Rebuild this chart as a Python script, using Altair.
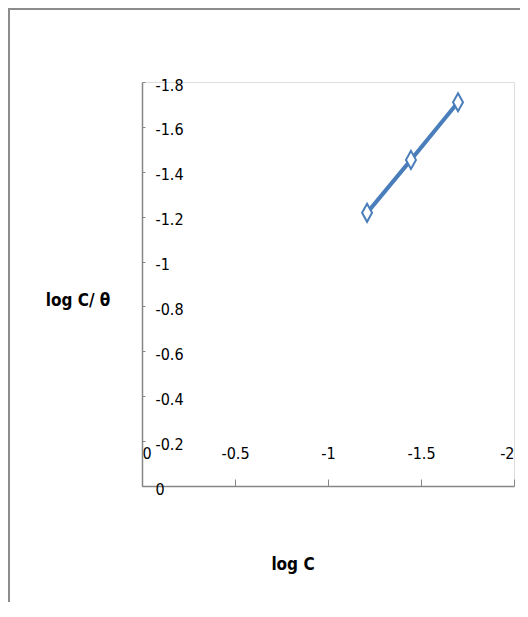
import altair as alt
import pandas as pd

# data
log_c = [-1.21, -1.446, -1.699]
log_c_theta = [-1.217, -1.453, -1.71]
x_ticks = [0, -0.5, -1, -1.5, -2]
y_ticks = [0, -0.2, -0.4, -0.6, -0.8, -1, -1.2, -1.4, -1.6, -1.8]
x_title = "log C"
y_title = "log C/ θ"

df = pd.DataFrame({"logC": log_c, "logCtheta": log_c_theta})

W, H = 372, 404
FONT = "DejaVu Sans Condensed, Lato, Liberation Sans, sans-serif"
AXIS_COLOR = "#868686"
SERIES = "#4A7EBB"
label_expr = "datum.value == 0 ? '0' : '-' + format(abs(datum.value), '~g')"

xs = alt.Scale(domain=[-2, 0], reverse=True, nice=False, zero=False)
ys = alt.Scale(domain=[-1.8, 0], reverse=True, nice=False, zero=False)

x_axis = alt.Axis(
    orient="top", offset=-H, values=x_ticks, labelExpr=label_expr,
    tickSize=7, labelPadding=21, labelBaseline="alphabetic",
    labelFont=FONT, labelFontSize=16, labelColor="#000000",
    domainColor=AXIS_COLOR, tickColor=AXIS_COLOR, domainWidth=1.5, tickWidth=1,
    grid=False, title=None, labelOverlap=False,
)
y_axis = alt.Axis(
    orient="right", offset=-W, values=y_ticks, labelExpr=label_expr,
    tickSize=3, labelPadding=10, labelBaseline="alphabetic", labelOffset=8,
    labelFont=FONT, labelFontSize=16, labelColor="#000000",
    domainColor=AXIS_COLOR, tickColor=AXIS_COLOR, domainWidth=1.5, tickWidth=1,
    grid=False, title=None, labelOverlap=False,
)

base = alt.Chart(df)
line = base.mark_line(color=SERIES, strokeWidth=4).encode(
    x=alt.X("logC:Q", scale=xs, axis=x_axis),
    y=alt.Y("logCtheta:Q", scale=ys, axis=y_axis),
)
points = base.mark_point(
    shape="M0,-1.8L1,0L0,1.8L-1,0Z", size=100, filled=True,
    fill="#FFFFFF", stroke=SERIES, strokeWidth=2, opacity=1,
).encode(x=alt.X("logC:Q", scale=xs), y=alt.Y("logCtheta:Q", scale=ys))

xt = alt.Chart(pd.DataFrame({"t": [x_title]})).mark_text(
    font=FONT, fontSize=17, fontWeight="bold", align="center", baseline="alphabetic", color="#000000"
).encode(x=alt.value(151), y=alt.value(488), text="t:N")
yt = alt.Chart(pd.DataFrame({"t": [y_title]})).mark_text(
    font=FONT, fontSize=17, fontWeight="bold", align="center", baseline="alphabetic", color="#000000"
).encode(x=alt.value(-64), y=alt.value(224), text="t:N")

left_border = alt.Chart(pd.DataFrame({"a": [0]})).mark_rule(color="#8C8C8C", strokeWidth=2).encode(
    x=alt.value(-133), y=alt.value(-73), y2=alt.value(524)
)
top_border = alt.Chart(pd.DataFrame({"a": [0]})).mark_rule(color="#8C8C8C", strokeWidth=2).encode(
    x=alt.value(-134), x2=alt.value(380), y=alt.value(-73)
)

chart = alt.layer(left_border, top_border, line, points, xt, yt).properties(
    width=W, height=H,
    padding={"left": 134, "top": 74, "right": 6, "bottom": 116},
    autosize=alt.AutoSizeParams(type="none"),
).configure_view(strokeWidth=0, stroke="transparent").configure(background="white")

chart.save("out.html", embed_options={"renderer": "svg", "actions": False})
